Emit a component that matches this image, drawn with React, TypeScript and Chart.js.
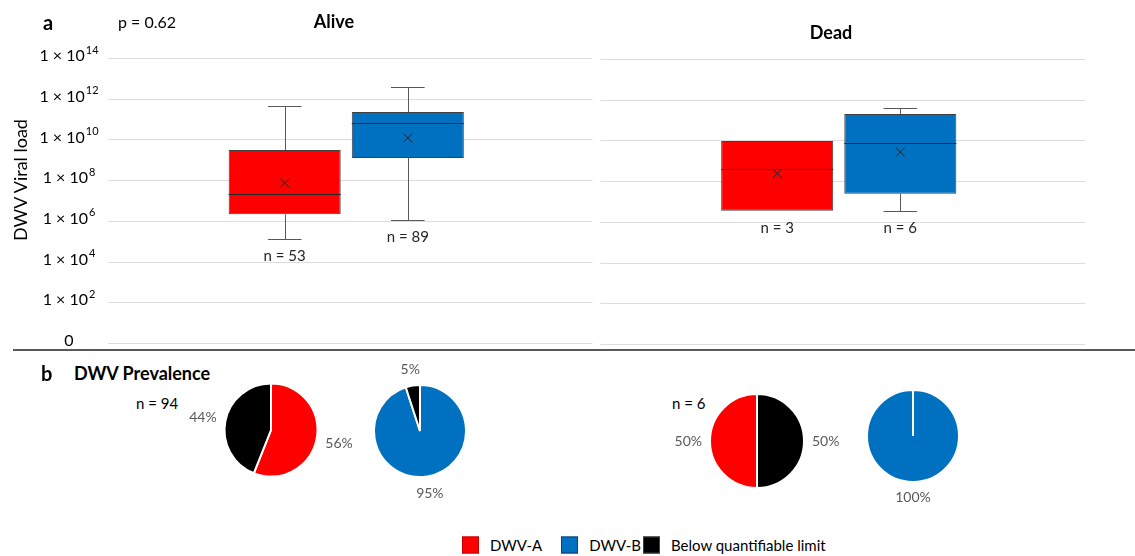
import React, { useEffect, useRef } from "react";
import { Chart, registerables } from "chart.js";

Chart.register(...registerables);

const FONT = "Lato, 'Open Sans', 'DejaVu Sans', sans-serif";
const RED = "#ff0000";
const BLUE = "#0070c0";
const BLACK = "#000000";

// ---- a: DWV viral load (values are log10 copies) ----
const groups = ["Alive", "Dead"];
const variantNames = ["DWV-A", "DWV-B"];
const variantColors = [RED, BLUE];
const exponentTicks = [0, 2, 4, 6, 8, 10, 12, 14];

// per variant: [DWV-A, DWV-B]
const aliveMin = [5.12, 6.03];
const aliveQ1 = [6.32, 9.09];
const aliveMedian = [7.3, 10.79];
const aliveMean = [7.86, 10.07];
const aliveQ3 = [9.48, 11.35];
const aliveMax = [11.66, 12.56];
const aliveN = [53, 89];

const deadMin = [6.5, 6.47];
const deadQ1 = [6.5, 7.33];
const deadMedian = [8.55, 9.81];
const deadMean = [8.32, 9.38];
const deadQ3 = [9.92, 11.25];
const deadMax = [9.92, 11.53];
const deadN = [3, 6];

// ---- b: DWV prevalence (%) ----
const aliveShareA = [56, 44]; // DWV-A, below quantifiable limit
const aliveShareB = [95, 5]; // DWV-B, below quantifiable limit
const deadShareA = [50, 50];
const deadShareB = [100];
const aliveSampleCount = 94;
const deadSampleCount = 6;

type BoxStats = {
  min: number[];
  q1: number[];
  median: number[];
  mean: number[];
  q3: number[];
  max: number[];
  n: number[];
};

const crisp = (v: number) => Math.round(v) + 0.5;

// Horizontal gridlines, one run per category panel
function makeGridPlugin(leftInset: number) {
  return {
    id: "panelGrid",
    beforeDatasetsDraw(chart: any) {
      const ctx = chart.ctx as CanvasRenderingContext2D;
      const x = chart.scales.x;
      const y = chart.scales.y;
      ctx.save();
      ctx.strokeStyle = "#dcdcdc";
      ctx.lineWidth = 1.2;
      chart.data.labels.forEach((_: any, c: number) => {
        const x0 = x.getPixelForValue(c - 0.5) + leftInset;
        const x1 = x.getPixelForValue(c + 0.5);
        exponentTicks.forEach((v) => {
          const py = crisp(y.getPixelForValue(v)) + c;
          ctx.beginPath();
          ctx.moveTo(x0, py);
          ctx.lineTo(x1, py);
          ctx.stroke();
        });
      });
      ctx.restore();
    },
  };
}

function makeBoxPlugin(groupStats: BoxStats[]) {
  return {
    id: "boxPlot",
    afterDatasetsDraw(chart: any) {
      const ctx = chart.ctx as CanvasRenderingContext2D;
      const y = chart.scales.y;
      const seg = (x1: number, y1: number, x2: number, y2: number) => {
        ctx.beginPath();
        ctx.moveTo(x1, y1);
        ctx.lineTo(x2, y2);
        ctx.stroke();
      };
      ctx.save();
      chart.data.datasets.forEach((_: any, i: number) => {
        const meta = chart.getDatasetMeta(i);
        groupStats.forEach((s, c) => {
          const bar = meta.data[c];
          const { x, width } = bar.getProps(["x", "width"], true);
          const left = x - width / 2;
          const right = x + width / 2;
          const cx = crisp(x);
          const yMin = y.getPixelForValue(s.min[i]);
          const yQ1 = y.getPixelForValue(s.q1[i]);
          const yMed = y.getPixelForValue(s.median[i]);
          const yMean = y.getPixelForValue(s.mean[i]);
          const yQ3 = y.getPixelForValue(s.q3[i]);
          const yMax = y.getPixelForValue(s.max[i]);
          const cap = width * 0.15;
          ctx.lineWidth = 1;
          ctx.strokeStyle = "#595959";
          if (s.max[i] > s.q3[i]) {
            seg(cx, yQ3, cx, crisp(yMax));
            seg(x - cap, crisp(yMax), x + cap, crisp(yMax));
          }
          if (s.min[i] < s.q1[i]) {
            seg(cx, yQ1, cx, crisp(yMin));
            seg(x - cap, crisp(yMin), x + cap, crisp(yMin));
          }
          ctx.strokeStyle = "#262626";
          seg(left, crisp(yMed), right, crisp(yMed));
          const m = 4.5;
          seg(x - m, yMean - m, x + m, yMean + m);
          seg(x - m, yMean + m, x + m, yMean - m);
          ctx.fillStyle = "#262626";
          ctx.font = `15px ${FONT}`;
          ctx.textAlign = "center";
          ctx.textBaseline = "middle";
          ctx.fillText(`n = ${s.n[i]}`, x, Math.max(yMin, yQ1) + 17);
        });
      });
      ctx.restore();
    },
  };
}

// "1 × 10ⁿ" tick labels with a raised exponent
const powerTickPlugin = {
  id: "powerTicks",
  afterDraw(chart: any) {
    const ctx = chart.ctx as CanvasRenderingContext2D;
    const y = chart.scales.y;
    const centerX = 69;
    ctx.save();
    ctx.fillStyle = "#000";
    ctx.textBaseline = "middle";
    ctx.textAlign = "left";
    y.ticks.forEach((t: any) => {
      const py = y.getPixelForValue(t.value) - 2;
      if (t.value === 0) {
        ctx.font = `16px ${FONT}`;
        const w = ctx.measureText("0").width;
        ctx.fillText("0", centerX - w / 2, py);
        return;
      }
      const base = "1 × 10";
      const exp = String(t.value);
      ctx.font = `16px ${FONT}`;
      const wb = ctx.measureText(base).width;
      ctx.font = `11px ${FONT}`;
      const we = ctx.measureText(exp).width;
      const start = centerX - (wb + we + 1) / 2;
      ctx.font = `16px ${FONT}`;
      ctx.fillText(base, start, py);
      ctx.font = `11px ${FONT}`;
      ctx.fillText(exp, start + wb + 1, py - 6);
    });
    ctx.restore();
  },
};

function ViralLoadChart() {
  const ref = useRef<HTMLCanvasElement>(null);
  useEffect(() => {
    if (!ref.current) return;
    const stats: BoxStats[] = [
      { min: aliveMin, q1: aliveQ1, median: aliveMedian, mean: aliveMean, q3: aliveQ3, max: aliveMax, n: aliveN },
      { min: deadMin, q1: deadQ1, median: deadMedian, mean: deadMean, q3: deadQ3, max: deadMax, n: deadN },
    ];
    const chart = new Chart(ref.current, {
      type: "bar",
      data: {
        labels: groups,
        datasets: variantNames.map((name, i) => ({
          label: name,
          data: stats.map((s) => [s.q1[i], s.q3[i]]) as any,
          backgroundColor: variantColors[i],
          borderColor: "#404040",
          borderWidth: 1,
          borderSkipped: false,
          categoryPercentage: 0.5,
          barPercentage: 0.91,
        })),
      },
      options: {
        responsive: false,
        animation: false,
        devicePixelRatio: 1,
        layout: { padding: { left: 100, right: 50, top: 58, bottom: 7 } },
        plugins: {
          legend: { display: false },
          tooltip: { enabled: false },
        },
        scales: {
          x: { display: false },
          y: {
            min: 0,
            max: 14,
            afterBuildTicks: (scale: any) => {
              scale.ticks = exponentTicks.map((v) => ({ value: v }));
            },
            ticks: { display: false },
            grid: { display: false },
            border: { display: false },
            afterFit: (scale: any) => {
              scale.width = 0;
            },
          },
        },
      } as any,
      plugins: [makeGridPlugin(8), makeBoxPlugin(stats), powerTickPlugin],
    });
    return () => chart.destroy();
  }, []);
  return (
    <canvas
      ref={ref}
      width={1135}
      height={350}
      style={{ position: "absolute", left: 0, top: 0, width: 1135, height: 350, display: "block" }}
    />
  );
}

type PieProps = {
  values: number[];
  colors: string[];
  rotation: number;
  cx: number;
  cy: number;
  r: number;
};

const pieLabelPlugin = {
  id: "pieLabels",
  afterDatasetsDraw(chart: any) {
    const ctx = chart.ctx as CanvasRenderingContext2D;
    const values = chart.data.datasets[0].data as number[];
    const arcs = chart.getDatasetMeta(0).data;
    ctx.save();
    ctx.font = `14px ${FONT}`;
    ctx.fillStyle = "#595959";
    ctx.textAlign = "center";
    ctx.textBaseline = "middle";
    arcs.forEach((arc: any, i: number) => {
      const { x, y, startAngle, endAngle, outerRadius } = arc.getProps(
        ["x", "y", "startAngle", "endAngle", "outerRadius"],
        true
      );
      const mid = (startAngle + endAngle) / 2;
      const text = `${values[i]}%`;
      const w = ctx.measureText(text).width;
      const c = Math.cos(mid);
      const s = Math.sin(mid);
      const d = outerRadius + 8 + Math.abs(c) * (w / 2) + Math.abs(s) * 7;
      ctx.fillText(text, x + c * d, y + s * d);
    });
    ctx.restore();
  },
};

function PieChart({ values, colors, rotation, cx, cy, r }: PieProps) {
  const ref = useRef<HTMLCanvasElement>(null);
  const W = 200;
  const H = 170;
  useEffect(() => {
    if (!ref.current) return;
    const chart = new Chart(ref.current, {
      type: "pie",
      data: {
        labels: values.map((_, i) => String(i)),
        datasets: [
          {
            data: values,
            backgroundColor: colors,
            borderColor: "#ffffff",
            borderWidth: 2,
          },
        ],
      },
      options: {
        responsive: false,
        animation: false,
        devicePixelRatio: 1,
        rotation,
        radius: r,
        plugins: {
          legend: { display: false },
          tooltip: { enabled: false },
        },
      } as any,
      plugins: [pieLabelPlugin],
    });
    return () => chart.destroy();
  }, []);
  return (
    <canvas
      ref={ref}
      width={W}
      height={H}
      style={{ position: "absolute", left: cx - W / 2, top: cy - H / 2, width: W, height: H, display: "block" }}
    />
  );
}

function Text({
  x,
  y,
  children,
  size = 15,
  bold = false,
  color = "#000",
  anchor = "center",
  rotate = 0,
}: {
  x: number;
  y: number;
  children: React.ReactNode;
  size?: number;
  bold?: boolean;
  color?: string;
  anchor?: "center" | "left";
  rotate?: number;
}) {
  const tx = anchor === "center" ? "-50%" : "0";
  return (
    <div
      style={{
        position: "absolute",
        left: x,
        top: y,
        transform: `translate(${tx}, -50%)${rotate ? ` rotate(${rotate}deg)` : ""}`,
        fontSize: size,
        fontWeight: bold ? 700 : 400,
        color,
        whiteSpace: "nowrap",
        lineHeight: 1,
      }}
    >
      {children}
    </div>
  );
}

const legendItems = [
  { name: "DWV-A", color: RED, border: "#c00000", gapAfter: 19 },
  { name: "DWV-B", color: BLUE, border: "#1f3864", gapAfter: 2 },
  { name: "Below quantifiable limit", color: BLACK, border: "#404040", gapAfter: 0 },
];

function Legend() {
  return (
    <div
      style={{
        position: "absolute",
        left: 462,
        top: 545,
        transform: "translateY(-50%)",
        display: "flex",
        alignItems: "center",
        fontSize: 15,
        lineHeight: 1,
        whiteSpace: "nowrap",
      }}
    >
      {legendItems.map((item) => (
        <div
          key={item.name}
          style={{ display: "flex", alignItems: "center", marginRight: item.gapAfter }}
        >
          <div
            style={{
              width: 15,
              height: 15,
              background: item.color,
              border: `1px solid ${item.border}`,
              marginRight: 11,
            }}
          />
          <span>{item.name}</span>
        </div>
      ))}
    </div>
  );
}

export default function App() {
  return (
    <div
      style={{
        position: "absolute",
        left: 0,
        top: 0,
        width: 1135,
        height: 556,
        overflow: "hidden",
        background: "#fff",
        fontFamily: FONT,
      }}
    >
      {/* a: viral load */}
      <ViralLoadChart />
      <Text x={43} y={22} size={20} bold anchor="left">a</Text>
      <Text x={118} y={22} size={16} anchor="left">p = 0.62</Text>
      <Text x={334} y={21} size={18} bold>Alive</Text>
      <Text x={831} y={32} size={18} bold>Dead</Text>
      <Text x={20} y={180} size={18} rotate={-90}>DWV Viral load</Text>

      <div
        style={{
          position: "absolute",
          left: 13,
          top: 349,
          width: 1122,
          height: 2,
          background: "#595959",
        }}
      />

      {/* b: prevalence */}
      <Text x={41} y={373} size={20} bold anchor="left">b</Text>
      <Text x={74} y={373} size={18} bold anchor="left">DWV Prevalence</Text>
      <Text x={136} y={403} size={15} anchor="left">n = {aliveSampleCount}</Text>
      <Text x={672} y={403} size={15} anchor="left">n = {deadSampleCount}</Text>

      <PieChart values={aliveShareA} colors={[RED, BLACK]} rotation={0} cx={270.5} cy={430} r={46.5} />
      <PieChart values={aliveShareB} colors={[BLUE, BLACK]} rotation={0} cx={419.5} cy={431} r={46} />
      <PieChart values={deadShareA} colors={[RED, BLACK]} rotation={180} cx={757} cy={441} r={47} />
      <PieChart values={deadShareB} colors={[BLUE]} rotation={0} cx={912.5} cy={435.5} r={46} />

      <Legend />
    </div>
  );
}
